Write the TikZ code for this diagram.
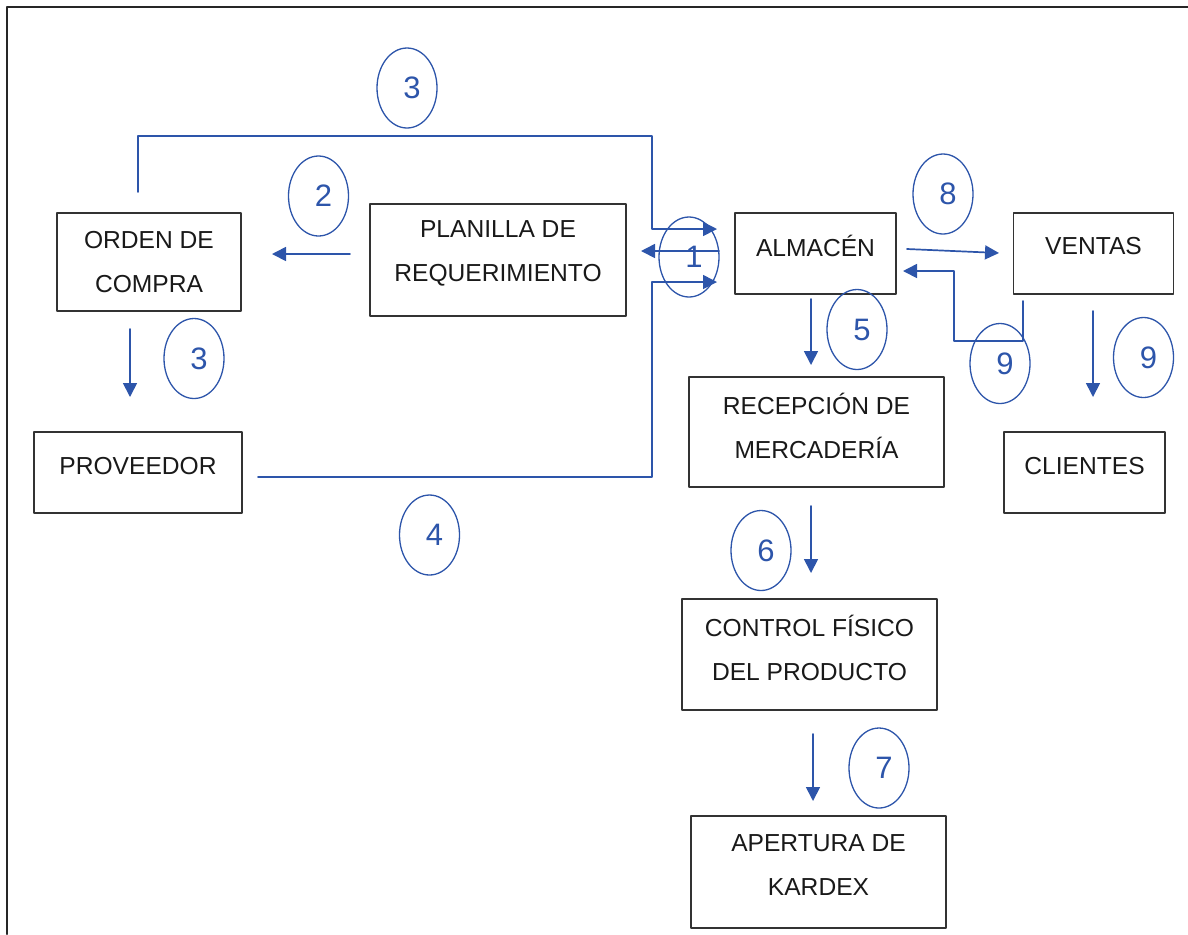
\documentclass[tikz,border=0pt]{standalone}
\usepackage{fontspec}
\setmainfont{Liberation Sans}
\usetikzlibrary{arrows.meta}
\usetikzlibrary{shapes.geometric}
\definecolor{azul}{RGB}{45,85,170}
\tikzset{
  caja/.style={rectangle,draw=black!80,line width=0.9pt,inner sep=0pt},
  txt/.style={font=\fontsize{12.3}{22}\selectfont,align=center,inner sep=0pt,text=black!90},
  num/.style={ellipse,draw=azul,line width=0.65pt,minimum width=30pt,minimum height=40pt,inner sep=0pt,
    label={[font=\fontsize{15.5}{15.5}\selectfont,text=azul,xshift=2.5pt]center:#1}},
  linea/.style={draw=azul,line width=0.85pt},
  flecha/.style={linea,-{Triangle[length=7pt,width=7pt]}}
}
\begin{document}
\begin{tikzpicture}[x=0.5pt,y=-0.5pt,line cap=round,line join=round]
\useasboundingbox (0,0) rectangle (1188,934);
% marco
\draw[line width=1.3pt,black!85] (7,934) -- (7,7) -- (1188,7);
% cajas
\node[caja,minimum width=92pt,minimum height=49pt,label={[txt]center:{ORDEN DE\\COMPRA}}] (orden) at (149,262) {};
\node[caja,minimum width=128pt,minimum height=56pt,label={[txt,yshift=3.25pt]center:{PLANILLA DE\\REQUERIMIENTO}}] (planilla) at (498,260) {};
\node[caja,minimum width=80.5pt,minimum height=40.5pt,label={[txt,yshift=3.75pt]center:{ALMACÉN}}] (almacen) at (815.5,253.5) {};
\node[caja,minimum width=80pt,minimum height=40.5pt,label={[txt,yshift=3.75pt]center:{VENTAS}}] (ventas) at (1093.5,253.5) {};
\node[caja,minimum width=127.5pt,minimum height=55pt,label={[txt,yshift=3.25pt]center:{RECEPCIÓN DE\\MERCADERÍA}}] (recepcion) at (816.5,432) {};
\node[caja,minimum width=104pt,minimum height=40.5pt,label={[txt,yshift=3.25pt]center:{PROVEEDOR}}] (proveedor) at (138,472.5) {};
\node[caja,minimum width=80.5pt,minimum height=40.5pt,label={[txt,yshift=3.25pt]center:{CLIENTES}}] (clientes) at (1084.5,472.5) {};
\node[caja,minimum width=127.5pt,minimum height=55.5pt,label={[txt,yshift=3.5pt]center:{CONTROL FÍSICO\\DEL PRODUCTO}}] (control) at (809.5,654.5) {};
\node[caja,minimum width=127.5pt,minimum height=56pt,label={[txt,yshift=3.5pt]center:{APERTURA DE\\KARDEX}}] (apertura) at (818.5,872) {};
% numeros
\node[num=3] (n3a) at (407,88) {};
\node[num=2] (n2) at (318.5,196) {};
\node[num=1] (n1) at (689,257) {};
\node[num=3] (n3b) at (194,358.5) {};
\node[num=4] (n4) at (429.5,535) {};
\node[num=5] (n5) at (857,329.5) {};
\node[num=8] (n8) at (943,194) {};
\node[num=9] (n9a) at (1000,363.5) {};
\node[num=9] (n9b) at (1143.5,357.5) {};
\node[num=6] (n6) at (761,550.5) {};
\node[num=7] (n7) at (879,768) {};
% extremos de las flechas
\coordinate (a3i) at (138,192);
\coordinate (a3f) at (717,229);
\coordinate (a4i) at (258,477);
\coordinate (a4f) at (717,282);
\coordinate (a1i) at (719,251);
\coordinate (a1f) at (641,251);
\coordinate (a2i) at (350,254);
\coordinate (a2f) at (272,254);
\coordinate (b3i) at (130,329);
\coordinate (b3f) at (130,397);
\coordinate (a5i) at (811,299);
\coordinate (a5f) at (811,365);
\coordinate (a6i) at (811,506);
\coordinate (a6f) at (811,573);
\coordinate (a7i) at (813,734);
\coordinate (a7f) at (813,801);
\coordinate (a8i) at (907,249);
\coordinate (a8f) at (999,253);
\coordinate (a9i) at (1023,301);
\coordinate (a9f) at (903,271);
\coordinate (b9i) at (1093,311);
\coordinate (b9f) at (1093,397);
% flechas
\draw[flecha] (a3i) -- ++(0,-56) -- ++(514,0) |- (a3f);
\draw[flecha] (a4i) -- ++(394,0) |- (a4f);
\draw[flecha] (a1i) -- (a1f);
\draw[flecha] (a2i) -- (a2f);
\draw[flecha] (b3i) -- (b3f);
\draw[flecha] (a5i) -- (a5f);
\draw[flecha] (a6i) -- (a6f);
\draw[flecha] (a7i) -- (a7f);
\draw[flecha] (a8i) -- (a8f);
\draw[flecha] (a9i) -- ++(0,40) -- ++(-69,0) |- (a9f);
\draw[flecha] (b9i) -- (b9f);
\end{tikzpicture}
\end{document}
